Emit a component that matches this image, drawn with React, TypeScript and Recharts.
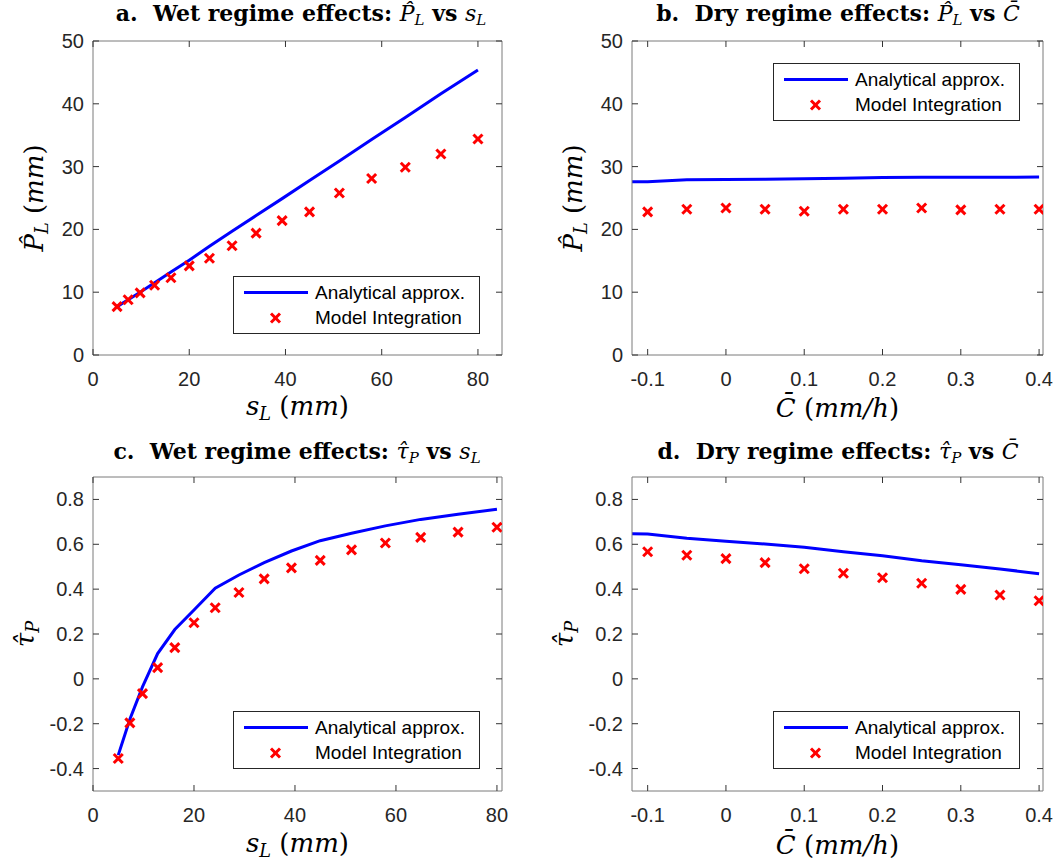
import React from "react";
import { ComposedChart, Line, Scatter, XAxis, YAxis, Legend } from "recharts";

// s_L values (mm) used by both wet-regime panels
const sL = [5.0, 7.3, 9.8, 12.8, 16.2, 20.0, 24.2, 28.9, 33.9, 39.3, 45.0, 51.2, 57.9, 64.9, 72.3, 80.0];
const wetPLApprox = [7.7, 8.8, 10.0, 11.5, 13.2, 15.1, 17.3, 19.7, 22.2, 24.9, 27.8, 30.9, 34.3, 37.8, 41.6, 45.4];
const wetPLModel = [7.7, 8.8, 9.9, 11.1, 12.3, 14.2, 15.4, 17.4, 19.4, 21.4, 22.8, 25.8, 28.1, 29.9, 32.0, 34.4];
const wetTauApprox = [-0.34, -0.18, -0.036, 0.113, 0.22, 0.307, 0.404, 0.463, 0.518, 0.57, 0.616, 0.649, 0.682, 0.711, 0.734, 0.756];
const wetTauModel = [-0.355, -0.196, -0.066, 0.05, 0.139, 0.25, 0.317, 0.385, 0.446, 0.495, 0.528, 0.575, 0.606, 0.631, 0.654, 0.676];

// C bar values (mm/h) for the dry-regime panels
const cBarLine = [-0.12, -0.1, -0.05, 0, 0.05, 0.1, 0.15, 0.2, 0.25, 0.3, 0.35, 0.4];
const cBar = [-0.1, -0.05, 0, 0.05, 0.1, 0.15, 0.2, 0.25, 0.3, 0.35, 0.4];
const dryPLApprox = [27.6, 27.6, 27.9, 27.95, 28.0, 28.05, 28.15, 28.25, 28.3, 28.3, 28.3, 28.35];
const dryPLModel = [22.8, 23.2, 23.4, 23.2, 22.9, 23.2, 23.2, 23.4, 23.1, 23.2, 23.2];
const dryTauApprox = [0.647, 0.646, 0.627, 0.613, 0.601, 0.587, 0.567, 0.549, 0.527, 0.509, 0.49, 0.469];
const dryTauModel = [0.567, 0.551, 0.536, 0.518, 0.491, 0.471, 0.451, 0.426, 0.399, 0.374, 0.348];

const sLTicks = [0, 20, 40, 60, 80];
const cBarTicks = [-0.1, 0, 0.1, 0.2, 0.3, 0.4];
const plTicks = [0, 10, 20, 30, 40, 50];
const tauTicks = [-0.4, -0.2, 0, 0.2, 0.4, 0.6, 0.8];

const SERIES_NAMES = ["Analytical approx.", "Model Integration"];

type Pt = { x: number; y: number };
const zip = (xs: number[], ys: number[]): Pt[] => xs.map((x, i) => ({ x, y: ys[i] }));

const AXIS = "#7a7a7a";
const TICK = "#333333";
const TXT = "#262626";
const SANS = "'Liberation Sans', Arial, sans-serif";
const SERIF = "'DejaVu Serif', serif";
const BLUE = "#0000ff";
const RED = "#ff0000";

const fmt = (v: number) => String(v);

function Cross(props: any) {
  const { cx, cy } = props;
  const r = 4.5;
  return (
    <g stroke={RED} strokeWidth={3}>
      <line x1={cx - r} y1={cy - r} x2={cx + r} y2={cy + r} />
      <line x1={cx - r} y1={cy + r} x2={cx + r} y2={cy - r} />
    </g>
  );
}

// axis thickness given to recharts (it skips axes with zero size)
const AX = 1;

const bottomTick = (props: any) => {
  const { x, y, payload } = props;
  return (
    <g>
      <line x1={x} x2={x} y1={y - 24} y2={y - 30} stroke={TICK} />
      <text x={x} y={y} textAnchor="middle" dominantBaseline="central" fontFamily={SANS} fontSize={20} fill={TXT}>
        {fmt(payload.value)}
      </text>
    </g>
  );
};

const leftTick = (props: any) => {
  const { x, y, payload } = props;
  return (
    <g>
      <line x1={x + 9} x2={x + 15} y1={y} y2={y} stroke={TICK} />
      <text x={x} y={y} textAnchor="end" dominantBaseline="central" fontFamily={SANS} fontSize={20} fill={TXT}>
        {fmt(payload.value)}
      </text>
    </g>
  );
};

const topTick = (props: any) => {
  const { x, y } = props;
  return <line x1={x} x2={x} y1={y} y2={y + 6} stroke={TICK} />;
};

const rightTick = (props: any) => {
  const { x, y } = props;
  return <line x1={x} x2={x - 6} y1={y} y2={y} stroke={TICK} />;
};

function LegendBox() {
  return (
    <div
      style={{
        position: "relative",
        width: 247,
        height: 58,
        boxSizing: "border-box",
        border: "1px solid #262626",
        background: "#fff",
        fontFamily: SANS,
        fontSize: 19,
        color: "#000",
      }}
    >
      <svg width={80} height={58} style={{ position: "absolute", left: 0, top: 0 }}>
        <line x1={10} x2={74} y1={15.5} y2={15.5} stroke={BLUE} strokeWidth={3} />
        <Cross cx={41.5} cy={41} />
      </svg>
      <div style={{ position: "absolute", left: 81, top: 15.5, transform: "translateY(-50%)", whiteSpace: "nowrap" }}>
        {SERIES_NAMES[0]}
      </div>
      <div style={{ position: "absolute", left: 81, top: 41, transform: "translateY(-50%)", whiteSpace: "nowrap" }}>
        {SERIES_NAMES[1]}
      </div>
    </div>
  );
}

type Box = { left: number; top: number; width: number; height: number };
type Rect = { left: number; top: number; right: number; bottom: number };

function Panel(p: {
  box: Box;
  plot: Rect;
  xDomain: [number, number];
  xTicks: number[];
  yDomain: [number, number];
  yTicks: number[];
  approx: Pt[];
  model: Pt[];
  legend: { left: number; top: number };
}) {
  const margin = {
    top: p.plot.top - p.box.top - AX,
    left: p.plot.left - p.box.left - AX,
    right: p.box.left + p.box.width - p.plot.right - AX,
    bottom: p.box.top + p.box.height - p.plot.bottom - AX,
  };
  return (
    <div style={{ position: "absolute", left: p.box.left, top: p.box.top }}>
      <ComposedChart width={p.box.width} height={p.box.height} margin={margin}>
        <XAxis
          xAxisId="b"
          type="number"
          dataKey="x"
          domain={p.xDomain}
          ticks={p.xTicks}
          allowDataOverflow
          interval={0}
          height={AX}
          tickSize={0}
          tickMargin={24}
          tickLine={false}
          axisLine={{ stroke: AXIS }}
          tick={bottomTick}
        />
        <XAxis
          xAxisId="t"
          orientation="top"
          type="number"
          dataKey="x"
          domain={p.xDomain}
          ticks={p.xTicks}
          allowDataOverflow
          interval={0}
          height={AX}
          tickSize={0}
          tickMargin={0}
          tickLine={false}
          axisLine={{ stroke: AXIS }}
          tick={topTick}
        />
        <YAxis
          yAxisId="l"
          type="number"
          dataKey="y"
          domain={p.yDomain}
          ticks={p.yTicks}
          allowDataOverflow
          interval={0}
          width={AX}
          tickSize={0}
          tickMargin={9}
          tickLine={false}
          axisLine={{ stroke: AXIS }}
          tick={leftTick}
        />
        <YAxis
          yAxisId="r"
          orientation="right"
          type="number"
          dataKey="y"
          domain={p.yDomain}
          ticks={p.yTicks}
          allowDataOverflow
          interval={0}
          width={AX}
          tickSize={0}
          tickMargin={0}
          tickLine={false}
          axisLine={{ stroke: AXIS }}
          tick={rightTick}
        />
        <Line
          xAxisId="b"
          yAxisId="l"
          data={p.approx}
          dataKey="y"
          name={SERIES_NAMES[0]}
          type="linear"
          stroke={BLUE}
          strokeWidth={3}
          dot={false}
          isAnimationActive={false}
        />
        <Scatter
          xAxisId="b"
          yAxisId="l"
          data={p.model}
          name={SERIES_NAMES[1]}
          shape={Cross}
          isAnimationActive={false}
        />
        <Legend
          layout="vertical"
          align="center"
          verticalAlign="middle"
          wrapperStyle={{ left: p.legend.left - p.box.left, top: p.legend.top - p.box.top, width: 247, height: 58 }}
          content={() => <LegendBox />}
        />
      </ComposedChart>
    </div>
  );
}

const Sub = ({ children }: { children: React.ReactNode }) => (
  <span style={{ fontSize: "0.68em", verticalAlign: "-0.3em" }}>{children}</span>
);
const M = ({ children }: { children: React.ReactNode }) => (
  <span style={{ fontStyle: "italic", fontWeight: "normal" }}>{children}</span>
);

const PHat = () => (
  <M>
    {"P\u0302"}
    <Sub>L</Sub>
  </M>
);
const Tau = () => (
  <M>
    {"\u03C4\u0302"}
    <Sub>P</Sub>
  </M>
);
const SL = () => (
  <M>
    s<Sub>L</Sub>
  </M>
);
const CBar = () => <M>{"C\u0304"}</M>;

function Txt({ x, y, size, rotate, bold, children }: any) {
  return (
    <div
      style={{
        position: "absolute",
        left: x,
        top: y,
        transform: `translate(-50%, -50%)${rotate ? " rotate(-90deg)" : ""}`,
        whiteSpace: "nowrap",
        fontFamily: SERIF,
        fontSize: size,
        fontWeight: bold ? "bold" : "normal",
        color: "#000",
        lineHeight: 1,
      }}
    >
      {children}
    </div>
  );
}

export default function App() {
  return (
    <div style={{ position: "absolute", left: 0, top: 0, width: 1059, height: 863, background: "#fff", overflow: "hidden" }}>
      <Panel
        box={{ left: 0, top: 0, width: 530, height: 432 }}
        plot={{ left: 93, top: 41, right: 502, bottom: 355 }}
        xDomain={[0, 85]}
        xTicks={sLTicks}
        yDomain={[0, 50]}
        yTicks={plTicks}
        approx={zip(sL, wetPLApprox)}
        model={zip(sL, wetPLModel)}
        legend={{ left: 233, top: 276 }}
      />
      <Panel
        box={{ left: 530, top: 0, width: 529, height: 432 }}
        plot={{ left: 632, top: 41, right: 1043, bottom: 355 }}
        xDomain={[-0.12, 0.405]}
        xTicks={cBarTicks}
        yDomain={[0, 50]}
        yTicks={plTicks}
        approx={zip(cBarLine, dryPLApprox)}
        model={zip(cBar, dryPLModel)}
        legend={{ left: 773, top: 63 }}
      />
      <Panel
        box={{ left: 0, top: 432, width: 530, height: 431 }}
        plot={{ left: 93, top: 477, right: 502, bottom: 791 }}
        xDomain={[0, 81]}
        xTicks={sLTicks}
        yDomain={[-0.5, 0.9]}
        yTicks={tauTicks}
        approx={zip(sL, wetTauApprox)}
        model={zip(sL, wetTauModel)}
        legend={{ left: 233, top: 711 }}
      />
      <Panel
        box={{ left: 530, top: 432, width: 529, height: 431 }}
        plot={{ left: 632, top: 477, right: 1043, bottom: 791 }}
        xDomain={[-0.12, 0.405]}
        xTicks={cBarTicks}
        yDomain={[-0.5, 0.9]}
        yTicks={tauTicks}
        approx={zip(cBarLine, dryTauApprox)}
        model={zip(cBar, dryTauModel)}
        legend={{ left: 773, top: 711 }}
      />

      {/* titles */}
      <Txt x={301} y={15} size={22} bold>
        a.&nbsp; Wet regime effects: <PHat /> vs <SL />
      </Txt>
      <Txt x={838} y={15} size={22} bold>
        b.&nbsp; Dry regime effects: <PHat /> vs <CBar />
      </Txt>
      <Txt x={297} y={453} size={22} bold>
        c.&nbsp; Wet regime effects: <Tau /> vs <SL />
      </Txt>
      <Txt x={838} y={453} size={22} bold>
        d.&nbsp; Dry regime effects: <Tau /> vs <CBar />
      </Txt>

      {/* x labels */}
      <Txt x={297.5} y={408} size={26}>
        <SL /> (<M>mm</M>)
      </Txt>
      <Txt x={837.5} y={408} size={26}>
        <CBar /> (<M>mm/h</M>)
      </Txt>
      <Txt x={297.5} y={845} size={26}>
        <SL /> (<M>mm</M>)
      </Txt>
      <Txt x={837.5} y={845} size={26}>
        <CBar /> (<M>mm/h</M>)
      </Txt>

      {/* y labels */}
      <Txt x={36} y={198} size={26} rotate>
        <PHat /> (<M>mm</M>)
      </Txt>
      <Txt x={575} y={198} size={26} rotate>
        <PHat /> (<M>mm</M>)
      </Txt>
      <Txt x={27} y={634} size={26} rotate>
        <Tau />
      </Txt>
      <Txt x={566} y={634} size={26} rotate>
        <Tau />
      </Txt>
    </div>
  );
}
